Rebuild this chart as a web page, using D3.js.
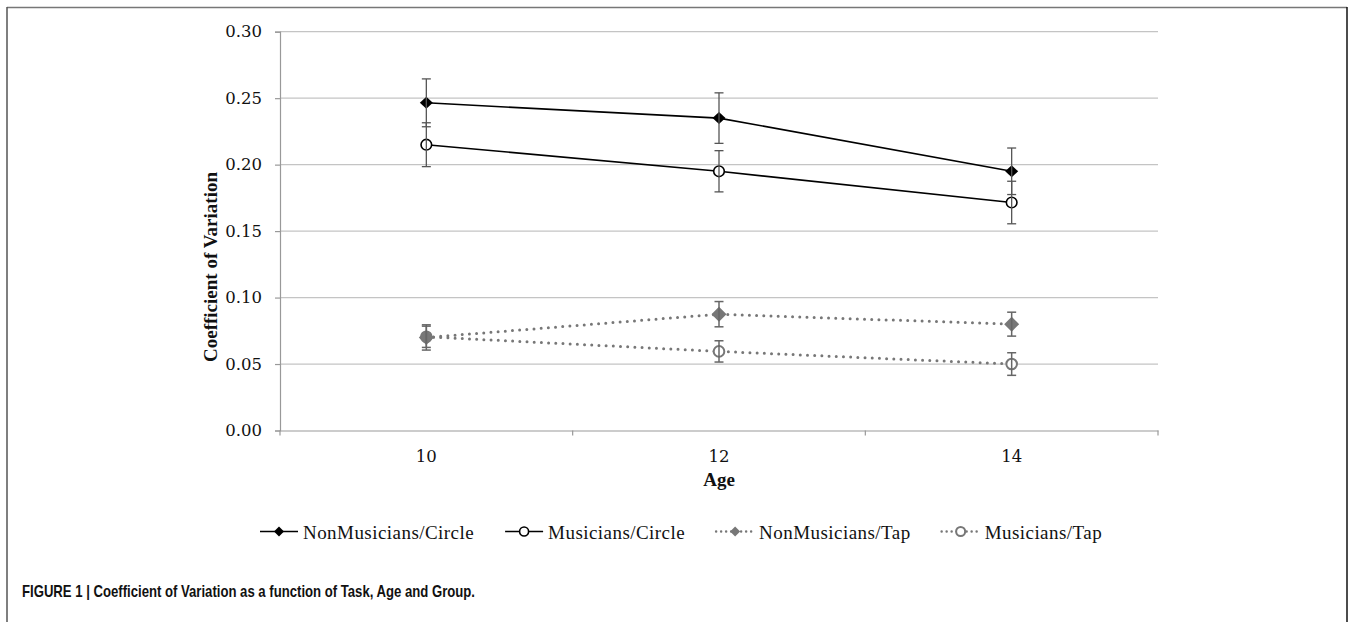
<!DOCTYPE html>
<html lang="en">
<head>
    <meta charset="UTF-8">
    <title>Coefficient of Variation</title>
    <script src="https://d3js.org/d3.v7.min.js"></script>
    <style>
        body { margin: 0; background: #fff; }
        .tick-label { font-family: "DejaVu Serif", serif; font-size: 16.5px; fill: #111; }
        .axis-title { font-family: "Liberation Serif", serif; font-size: 19px; font-weight: bold; fill: #111; }
        .legend-text { font-family: "Liberation Serif", serif; font-size: 19px; letter-spacing: 0.45px; fill: #111; }
        .caption { font-family: "Liberation Sans", sans-serif; font-size: 17px; font-weight: bold; fill: #111; }
    </style>
</head>
<body>
<svg width="1349" height="622"></svg>

<script type="application/javascript">

    // datos
    const ages = ["10", "12", "14"]
    const yTicks = [0, 0.05, 0.10, 0.15, 0.20, 0.25, 0.30]

    const seriesNames = ["NonMusicians/Circle", "Musicians/Circle", "NonMusicians/Tap", "Musicians/Tap"]
    const nonMusCircle = [0.2465, 0.235, 0.195]
    const musCircle = [0.215, 0.195, 0.1715]
    const nonMusTap = [0.070, 0.0875, 0.080]
    const musTap = [0.0705, 0.0595, 0.050]

    const nonMusCircleErr = [0.018, 0.019, 0.0175]
    const musCircleErr = [0.0165, 0.0155, 0.016]
    const nonMusTapErr = [0.0095, 0.0095, 0.009]
    const musTapErr = [0.008, 0.008, 0.0085]

    const series = [
        {name: seriesNames[0], values: nonMusCircle, err: nonMusCircleErr, color: "#000", bar: "#555", dotted: false, marker: "diamond"},
        {name: seriesNames[1], values: musCircle, err: musCircleErr, color: "#000", bar: "#555", dotted: false, marker: "circle"},
        {name: seriesNames[2], values: nonMusTap, err: nonMusTapErr, color: "#777", bar: "#666", dotted: true, marker: "diamond"},
        {name: seriesNames[3], values: musTap, err: musTapErr, color: "#777", bar: "#666", dotted: true, marker: "circle"}
    ]

    const svg = d3.select("svg")

    // marco de la figura
    svg.append("line").attr("x1", 7).attr("y1", 7.5).attr("x2", 1347).attr("y2", 7.5)
        .attr("stroke", "#777").attr("stroke-width", 1.5)
    svg.append("line").attr("x1", 7).attr("y1", 7).attr("x2", 7).attr("y2", 622)
        .attr("stroke", "#555").attr("stroke-width", 1.5)
    svg.append("line").attr("x1", 1347).attr("y1", 7).attr("x2", 1347).attr("y2", 622)
        .attr("stroke", "#111").attr("stroke-width", 1.5)

    const plotLeft = 280, plotRight = 1158, plotTop = 31.7, plotBottom = 430.5

    const x = d3.scaleBand().domain(ages).range([plotLeft, plotRight]).padding(0)
    const y = d3.scaleLinear().domain([0, 0.30]).range([plotBottom, plotTop])

    // lineas horizontales de la grilla
    svg.append("g")
        .selectAll("line")
        .data(yTicks.slice(1))
        .enter()
        .append("line")
        .attr("x1", plotLeft)
        .attr("x2", plotRight)
        .attr("y1", d => y(d))
        .attr("y2", d => y(d))
        .attr("stroke", "#c4c4c4")
        .attr("stroke-width", 1.2)

    // eje y
    const yAxis = svg.append("g")
        .attr("transform", `translate(${plotLeft},0)`)
        .call(d3.axisLeft(y).tickValues(yTicks).tickFormat(d3.format(".2f")).tickSize(5).tickPadding(13))
    yAxis.select(".domain").attr("stroke", "#999").attr("stroke-width", 1.2)
    yAxis.selectAll(".tick line").attr("stroke", "#999").attr("stroke-width", 1.2)
    yAxis.attr("font-family", null).attr("font-size", null)
    yAxis.selectAll(".tick text").attr("class", "tick-label")

    // eje x: marcas entre categorias
    const xAxis = svg.append("g")
        .attr("transform", `translate(0,${plotBottom})`)
        .call(d3.axisBottom(x).tickSize(0).tickPadding(20))
    xAxis.select(".domain").attr("stroke", "#999").attr("stroke-width", 1.2)
    xAxis.attr("font-family", null).attr("font-size", null)
    xAxis.selectAll(".tick text").attr("class", "tick-label")

    const edges = ages.map(a => x(a)).concat([x(ages[ages.length - 1]) + x.bandwidth()])
    xAxis.selectAll(".edge")
        .data(edges)
        .enter()
        .append("line")
        .attr("x1", d => d)
        .attr("x2", d => d)
        .attr("y1", 0)
        .attr("y2", 5)
        .attr("stroke", "#999")
        .attr("stroke-width", 1.2)

    // titulos de los ejes
    svg.append("text")
        .attr("class", "axis-title")
        .attr("x", (plotLeft + plotRight) / 2)
        .attr("y", 486)
        .attr("text-anchor", "middle")
        .text("Age")

    svg.append("text")
        .attr("class", "axis-title")
        .attr("transform", "translate(210,267) rotate(-90)")
        .attr("text-anchor", "middle")
        .attr("dy", "0.35em")
        .text("Coefficient of Variation")

    const cx = (d, i) => x(ages[i]) + x.bandwidth() / 2

    function drawMarker(sel, s, px, py, big) {
        if (s.marker === "diamond") {
            let w = big ? 6.5 : 5, h = big ? 6 : 5
            if (s.dotted && big) { w = 7.5; h = 7.5 }
            sel.append("path")
                .attr("d", `M${px - w},${py} L${px},${py - h} L${px + w},${py} L${px},${py + h} Z`)
                .attr("fill", s.color)
        } else {
            sel.append("circle")
                .attr("cx", px)
                .attr("cy", py)
                .attr("r", big ? 5.3 : 4.5)
                .attr("fill", "#fff")
                .attr("stroke", s.color)
                .attr("stroke-width", s.dotted ? 2 : 1.6)
        }
    }

    // lineas de las series
    const line = d3.line().x(cx).y(d => y(d))
    series.forEach(function (s) {
        const path = svg.append("path")
            .datum(s.values)
            .attr("d", line)
            .attr("fill", "none")
            .attr("stroke", s.color)
        if (s.dotted) {
            path.attr("stroke-width", 3).attr("stroke-dasharray", "0 7.2").attr("stroke-linecap", "round")
        } else {
            path.attr("stroke-width", 1.6)
        }
    })

    // marcadores (en orden inverso, los rombos quedan encima)
    series.slice().reverse().forEach(function (s) {
        const g = svg.append("g")
        s.values.forEach(function (v, i) {
            drawMarker(g, s, cx(v, i), y(v), true)
        })
    })

    // barras de error
    series.forEach(function (s) {
        const g = svg.append("g")
            .attr("stroke", s.bar)
            .attr("stroke-width", s.dotted ? 1.5 : 1.3)
        s.values.forEach(function (v, i) {
            const px = cx(v, i)
            g.append("line").attr("x1", px).attr("x2", px)
                .attr("y1", y(v - s.err[i])).attr("y2", y(v + s.err[i]))
            g.append("line").attr("x1", px - 4.5).attr("x2", px + 4.5)
                .attr("y1", y(v + s.err[i])).attr("y2", y(v + s.err[i]))
            g.append("line").attr("x1", px - 4.5).attr("x2", px + 4.5)
                .attr("y1", y(v - s.err[i])).attr("y2", y(v - s.err[i]))
        })
    })

    // leyenda
    const legendY = 531.5
    let lx = 260
    series.forEach(function (s) {
        const g = svg.append("g")
        const l = g.append("line")
            .attr("x1", lx).attr("x2", lx + 38)
            .attr("y1", legendY).attr("y2", legendY)
            .attr("stroke", s.color)
        if (s.dotted) {
            l.attr("stroke-width", 2.5).attr("stroke-dasharray", "0 5").attr("stroke-linecap", "round")
        } else {
            l.attr("stroke-width", 1.6)
        }
        drawMarker(g, s, lx + 19, legendY, false)
        const t = g.append("text")
            .attr("class", "legend-text")
            .attr("x", lx + 43)
            .attr("y", legendY + 7)
            .text(s.name)
        lx = lx + 43 + t.node().getComputedTextLength() + 31
    })

    // pie de figura
    svg.append("text")
        .attr("class", "caption")
        .attr("x", 22)
        .attr("y", 597)
        .attr("textLength", 453)
        .attr("lengthAdjust", "spacingAndGlyphs")
        .text("FIGURE 1 | Coefficient of Variation as a function of Task, Age and Group.")

</script>
</body>
</html>
